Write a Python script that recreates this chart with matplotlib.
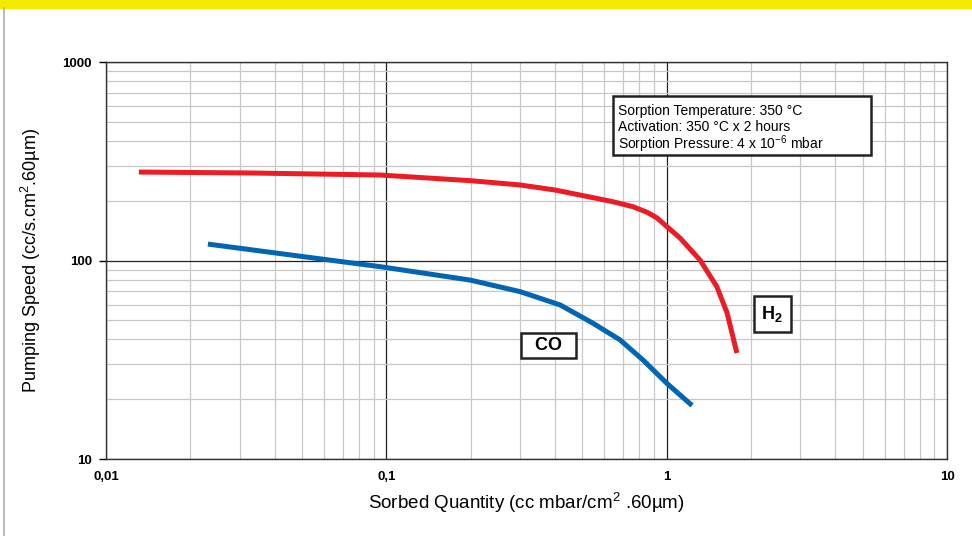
import matplotlib
matplotlib.use('Agg')
import matplotlib.pyplot as plt
from matplotlib.ticker import FixedLocator, NullFormatter, FixedFormatter

plt.rcParams['font.family'] = ['Liberation Sans', 'DejaVu Sans']
plt.rcParams['mathtext.fontset'] = 'custom'
plt.rcParams['mathtext.rm'] = 'Liberation Sans'
plt.rcParams['mathtext.bf'] = 'Liberation Sans:bold'

# H2 curve (sorbed quantity, pumping speed)
h2_q = [0.0131, 0.0327, 0.095, 0.199, 0.300, 0.400, 0.504, 0.644, 0.759, 0.851,
        0.924, 1.003, 1.116, 1.315, 1.51, 1.643, 1.78]
h2_s = [279, 276, 269.6, 252.5, 240.2, 226.5, 212.1, 197.7, 186.6, 175,
        163.8, 148, 129.8, 100.6, 73.8, 54.4, 34.2]

# CO curve
co_q = [0.0231, 0.05, 0.095, 0.199, 0.300, 0.417, 0.546, 0.682, 0.824, 1.0, 1.232]
co_s = [121, 104.8, 93.1, 79.7, 69.7, 59.7, 48.3, 39.8, 31.5, 24.1, 18.6]

x_ticks = [0.01, 0.1, 1, 10]
x_labels = ['0,01', '0,1', '1', '10']
y_ticks = [10, 100, 1000]
y_labels = ['10', '100', '1000']

info_lines = ['Sorption Temperature: 350 °C',
              'Activation: 350 °C x 2 hours',
              'Sorption Pressure: 4 x 10$^{-6}$ mbar']

fig = plt.figure(figsize=(9.72, 5.36), dpi=100)

# yellow band on top and grey frame line on the left
fig.patches.append(plt.Rectangle((0, 1 - 8/536), 1, 8/536, transform=fig.transFigure,
                                 color='#f5e900', zorder=0))
fig.lines.append(plt.Line2D([3.5/972, 3.5/972], [0, 1 - 8/536], transform=fig.transFigure,
                            color='#b0b0b0', lw=1.2))

ax = fig.add_axes([106/972, 77/536, 841/972, 397/536])
ax.set_xscale('log')
ax.set_yscale('log')
ax.set_xlim(0.01, 10)
ax.set_ylim(10, 1000)

minor_x = [m * 10.0**e for e in (-2, -1, 0) for m in range(2, 10)]
minor_y = [m * 10.0**e for e in (1, 2) for m in range(2, 10)]
ax.xaxis.set_major_locator(FixedLocator(x_ticks))
ax.xaxis.set_major_formatter(FixedFormatter(x_labels))
ax.xaxis.set_minor_locator(FixedLocator(minor_x))
ax.xaxis.set_minor_formatter(NullFormatter())
ax.yaxis.set_major_locator(FixedLocator(y_ticks))
ax.yaxis.set_major_formatter(FixedFormatter(y_labels))
ax.yaxis.set_minor_locator(FixedLocator(minor_y))
ax.yaxis.set_minor_formatter(NullFormatter())

ax.grid(which='minor', color='#c8c8c8', lw=0.9)
ax.grid(which='major', color='#222222', lw=0.9)
ax.set_axisbelow(True)
for s in ax.spines.values():
    s.set_color('#333333')
    s.set_linewidth(1.0)

ax.tick_params(axis='x', which='both', length=0, pad=9, labelsize=9.5)
ax.tick_params(axis='y', which='major', length=5, width=1.0, pad=5, labelsize=9.5)
ax.tick_params(axis='y', which='minor', length=0)
for lab in ax.get_xticklabels() + ax.get_yticklabels():
    lab.set_fontweight('bold')

ax.plot(h2_q, h2_s, color='#ec1c24', lw=3.6, solid_capstyle='butt', solid_joinstyle='round')
ax.plot(co_q, co_s, color='#0066b3', lw=3.6, solid_capstyle='butt', solid_joinstyle='round')

ax.set_xlabel('Sorbed Quantity (cc mbar/cm$^{2}$ .60µm)', fontsize=13.5, labelpad=5)
ax.set_ylabel('Pumping Speed (cc/s.cm$^{2}$.60µm)', fontsize=13, labelpad=14)

# condition box
ax.add_patch(plt.Rectangle((0.603, 0.766), 0.3066, 0.148, transform=ax.transAxes,
                           fc='white', ec='#222222', lw=1.8, zorder=4))
for i, line in enumerate(info_lines):
    ax.text(0.609, 0.8816 - i * 0.0403, line, transform=ax.transAxes, fontsize=10,
            ha='left', va='center_baseline', zorder=5)

ax.text(2.38, 53.8, 'H$_\\mathbf{2}$', fontsize=13, fontweight='bold', ha='center', va='center',
        bbox=dict(boxstyle='square,pad=0.42', fc='white', ec='#222222', lw=1.8))
ax.text(0.38, 37.5, '  CO  ', fontsize=13, fontweight='bold', ha='center', va='center',
        bbox=dict(boxstyle='square,pad=0.22', fc='white', ec='#222222', lw=1.8))

fig.savefig('out.png', dpi=100)
